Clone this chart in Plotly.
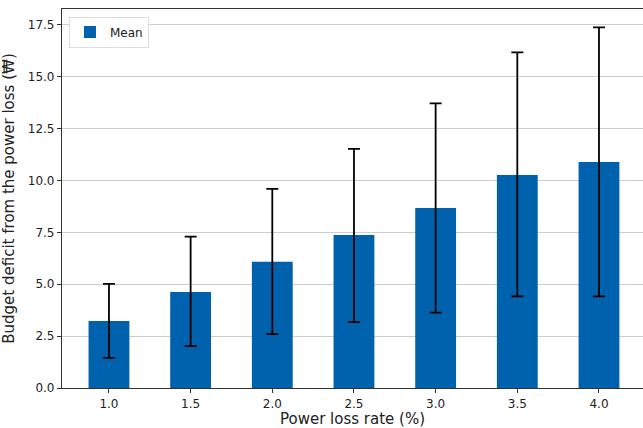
import plotly.graph_objects as go

categories = ["1.0", "1.5", "2.0", "2.5", "3.0", "3.5", "4.0"]
mean_values = [3.23, 4.63, 6.08, 7.38, 8.68, 10.27, 10.9]
upper_values = [5.02, 7.3, 9.6, 11.53, 13.72, 16.18, 17.38]
lower_values = [1.45, 2.02, 2.6, 3.18, 3.63, 4.42, 4.42]

err_plus = [u - m for u, m in zip(upper_values, mean_values)]
err_minus = [m - l for m, l in zip(mean_values, lower_values)]

fig = go.Figure()
fig.add_trace(go.Bar(
    x=categories, y=mean_values, name="Mean",
    marker=dict(color="#0062AD", line=dict(width=0)),
    width=0.5,
    error_y=dict(type="data", symmetric=False, array=err_plus, arrayminus=err_minus,
                 color="black", thickness=1.8, width=6),
    showlegend=True,
))

fig.update_layout(
    width=643, height=428,
    margin=dict(l=62, r=0, t=9, b=40),
    plot_bgcolor="white", paper_bgcolor="white",
    font=dict(family="DejaVu Sans", size=12, color="#222"),
    legend=dict(x=0.012, y=0.98, xanchor="left", yanchor="top",
                bgcolor="white", bordercolor="#ddd", borderwidth=1,
                font=dict(size=12), tracegroupgap=0),
    xaxis=dict(type="category", range=[-0.575, 6.539],
               showline=True, linecolor="#333", linewidth=1.2, mirror=True,
               ticks="outside", ticklen=4, tickcolor="#333", showgrid=False,
               title=dict(text="Power loss rate (%)", font=dict(size=15), standoff=6)),
    yaxis=dict(range=[0, 18.27], tickvals=[0, 2.5, 5, 7.5, 10, 12.5, 15, 17.5],
               ticktext=["0.0", "2.5", "5.0", "7.5", "10.0", "12.5", "15.0", "17.5"],
               showline=True, linecolor="#333", linewidth=1.2,
               ticks="outside", ticklen=4, tickcolor="#333",
               showgrid=True, gridcolor="#cccccc", gridwidth=1.2, zeroline=False,
               title=dict(text="Budget deficit from the power loss (₩)", font=dict(size=15), standoff=9)),
)

fig.write_html("out.html")
